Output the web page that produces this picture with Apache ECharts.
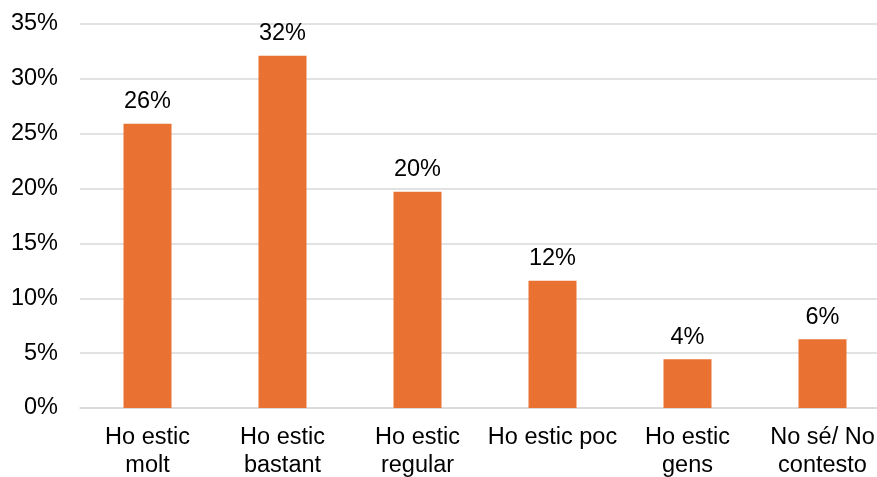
<!DOCTYPE html>
<html>
<head>
<meta charset="utf-8">
<script src="https://cdn.jsdelivr.net/npm/echarts@6/dist/echarts.min.js"></script>
<style>
html,body{margin:0;padding:0;background:#fff;}
#chart{width:877px;height:477px;}
</style>
</head>
<body>
<div id="chart"></div>
<script>
const categories = ['Ho estic\nmolt', 'Ho estic\nbastant', 'Ho estic\nregular', 'Ho estic poc', 'Ho estic\ngens', 'No sé/ No\ncontesto'];
const values = [25.9, 32.1, 19.7, 11.6, 4.45, 6.26];
const yTicks = [0, 5, 10, 15, 20, 25, 30, 35];

const FONT = '"Liberation Sans", Arial, sans-serif';
const FS = 23.5;
const chart = echarts.init(document.getElementById('chart'), null, {renderer: 'canvas'});
chart.setOption({
  animation: false,
  grid: {left: 80, top: 24, width: 810, bottom: 69, containLabel: false, outerBoundsMode: 'none'},
  xAxis: {
    type: 'category',
    data: categories,
    axisLine: {show: true, lineStyle: {color: '#d9d9d9', width: 1.5}},
    axisTick: {show: false},
    axisLabel: {
      interval: 0, color: '#000', fontFamily: FONT, fontSize: FS,
      lineHeight: 28, margin: 16
    }
  },
  yAxis: {
    type: 'value',
    min: yTicks[0], max: yTicks[yTicks.length - 1], interval: 5,
    axisLine: {show: false},
    axisTick: {show: false},
    splitLine: {lineStyle: {color: '#d9d9d9', width: 1.5}},
    axisLabel: {color: '#000', fontFamily: FONT, fontSize: FS, margin: 22, formatter: '{value}%'}
  },
  series: [{
    type: 'bar',
    data: values,
    barWidth: 48,
    itemStyle: {color: '#E97132'},
    label: {
      show: true, position: 'top', distance: 10,
      color: '#000', fontFamily: FONT, fontSize: FS,
      formatter: p => Math.round(p.value) + '%'
    }
  }]
});
</script>
</body>
</html>
